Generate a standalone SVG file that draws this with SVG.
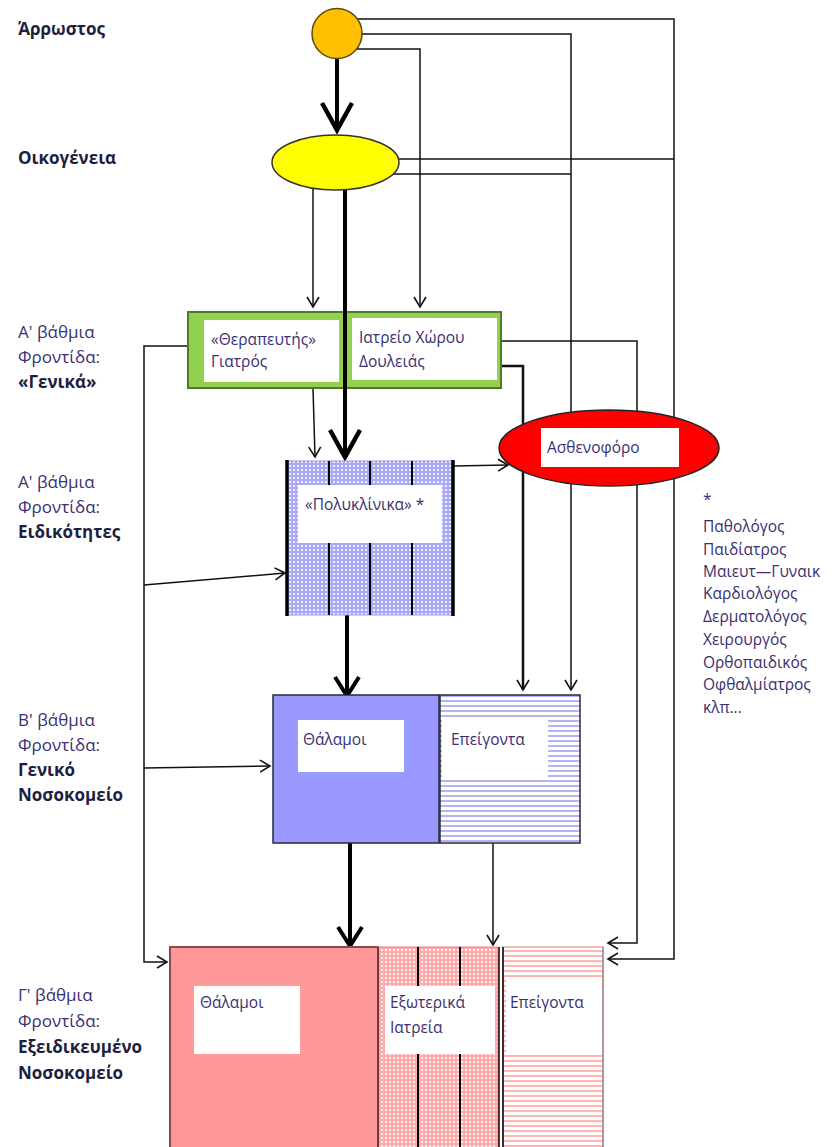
<svg xmlns="http://www.w3.org/2000/svg" width="836" height="1147" viewBox="0 0 836 1147">
<style>
.lbl{font-family:"Open Sans","Noto Sans",sans-serif;font-size:17px;fill:#3a2f70}
.b{font-weight:bold;fill:#1e1e40}
.in{font-family:"Open Sans","Noto Sans",sans-serif;font-size:15.5px;fill:#3a2f70}
.ln{fill:none;stroke:#111;stroke-width:1.5}
.th{fill:none;stroke:#000;stroke-width:4}
.md{fill:none;stroke:#111;stroke-width:2.5}
</style>
<defs>
<marker id="a" markerUnits="userSpaceOnUse" viewBox="0 0 10 12" refX="10" refY="6" markerWidth="10" markerHeight="12" orient="auto" overflow="visible"><path d="M0,0 L10,6 L0,12" fill="none" stroke="#111" stroke-width="1.6"/></marker>
<marker id="ab" markerUnits="userSpaceOnUse" viewBox="0 0 28 30" refX="27" refY="15" markerWidth="28" markerHeight="30" orient="auto" overflow="visible"><path d="M0,0 L27,15 L0,30" fill="none" stroke="#000" stroke-width="4.5"/></marker>
<marker id="am" markerUnits="userSpaceOnUse" viewBox="0 0 20 24" refX="19" refY="12" markerWidth="20" markerHeight="24" orient="auto" overflow="visible"><path d="M0,0 L19,12 L0,24" fill="none" stroke="#000" stroke-width="4"/></marker>
<pattern id="dotB" width="4" height="4" patternUnits="userSpaceOnUse"><rect width="4" height="4" fill="#a9a9f5"/><circle cx="2" cy="2" r="1.1" fill="#fff"/></pattern>
<pattern id="hlB" width="6" height="5" patternUnits="userSpaceOnUse"><rect width="6" height="5" fill="#fff"/><rect width="6" height="2" fill="#b3b3f7"/></pattern>
<pattern id="dotR" width="4" height="4" patternUnits="userSpaceOnUse"><rect width="4" height="4" fill="#ffaaaa"/><circle cx="2" cy="2" r="1.1" fill="#fff"/></pattern>
<pattern id="hlR" width="6" height="5" patternUnits="userSpaceOnUse"><rect width="6" height="5" fill="#fff"/><rect width="6" height="2" fill="#ffb3b3"/></pattern>
</defs>
<g id="labels">
<text class="lbl b" x="18" y="35">Άρρωστος</text>
<text class="lbl b" x="18" y="164">Οικογένεια</text>
<text class="lbl" x="18" y="338">Α' βάθμια</text>
<text class="lbl" x="18" y="363">Φροντίδα:</text>
<text class="lbl b" x="18" y="388">«Γενικά»</text>
<text class="lbl" x="18" y="488">Α' βάθμια</text>
<text class="lbl" x="18" y="513">Φροντίδα:</text>
<text class="lbl b" x="18" y="538">Ειδικότητες</text>
<text class="lbl" x="18" y="726">Β' βάθμια</text>
<text class="lbl" x="18" y="751">Φροντίδα:</text>
<text class="lbl b" x="18" y="776">Γενικό</text>
<text class="lbl b" x="18" y="801">Νοσοκομείο</text>
<text class="lbl" x="18" y="1001">Γ' βάθμια</text>
<text class="lbl" x="18" y="1027">Φροντίδα:</text>
<text class="lbl b" x="18" y="1053">Εξειδικευμένο</text>
<text class="lbl b" x="18" y="1079">Νοσοκομείο</text>
</g>
<g id="connectors">
<path class="ln" d="M337,19 H674 V959 H608" marker-end="url(#a)"/>
<path class="ln" d="M337,34 H571 V690" marker-end="url(#a)"/>
<path class="ln" d="M337,49 H420 V307" marker-end="url(#a)"/>
<path class="ln" d="M336,159 H674"/>
<path class="ln" d="M336,174 H571"/>
<path class="th" d="M337,58 V130" marker-end="url(#ab)"/>
<path class="ln" d="M313,185 V307" marker-end="url(#a)"/>
<path class="th" d="M345,185 V457" marker-end="url(#ab)"/>
<path class="ln" d="M313,388 L315,457" marker-end="url(#a)"/>
<path class="ln" d="M187,346 H144 V962 H167" marker-end="url(#a)"/>
<path class="ln" d="M144,585 L285,573" marker-end="url(#a)"/>
<path class="ln" d="M144,768 L270,766" marker-end="url(#a)"/>
<path class="ln" d="M497,341 H637 V943 H608" marker-end="url(#a)"/>
<path class="md" d="M497,366 H523 V690" marker-end="url(#a)"/>
<path class="ln" d="M453,466 L508,465" marker-end="url(#a)"/>
<path class="th" d="M347,615 V696" marker-end="url(#am)"/>
<path class="th" d="M350,843 V946" marker-end="url(#am)"/>
<path class="ln" d="M493,843 V945" marker-end="url(#a)"/>
</g>
<g id="patient">
<circle cx="337" cy="33.5" r="25" fill="#ffc000" stroke="#5a4a10" stroke-width="1.5"/>
</g>
<g id="family">
<ellipse cx="335.5" cy="162.5" rx="63.5" ry="27.5" fill="#ffff00" stroke="#333" stroke-width="1.5"/>
</g>
<g id="primary-general">
<rect x="188" y="312" width="313" height="76" fill="#92d050" stroke="#4f7a28" stroke-width="2"/>
<rect x="204" y="320" width="135" height="62" fill="#fff"/>
<rect x="352" y="318" width="145" height="62" fill="#fff"/>
<line x1="345" y1="310" x2="345" y2="390" stroke="#000" stroke-width="4"/>
<text class="in" x="211" y="345">«Θεραπευτής»</text>
<text class="in" x="211" y="367">Γιατρός</text>
<text class="in" x="359" y="343">Ιατρείο Χώρου</text>
<text class="in" x="359" y="367">Δουλειάς</text>
</g>
<g id="ambulance">
<ellipse cx="609" cy="448" rx="110" ry="38" fill="#ff0000" stroke="#222" stroke-width="1.5"/>
<rect x="541" y="428" width="138" height="39" fill="#fff"/>
<text class="in" x="547" y="453">Ασθενοφόρο</text>
</g>
<g id="polyclinics">
<rect x="287" y="461" width="166" height="154" fill="url(#dotB)" stroke="#9a9ae0" stroke-width="1"/>
<g stroke="#000"><line x1="287" y1="460" x2="287" y2="616" stroke-width="3.5"/><line x1="453" y1="460" x2="453" y2="616" stroke-width="3.5"/><line x1="329" y1="461" x2="329" y2="615" stroke-width="2"/><line x1="370" y1="461" x2="370" y2="615" stroke-width="2"/><line x1="412" y1="461" x2="412" y2="615" stroke-width="2"/></g>
<rect x="298" y="485" width="144" height="58" fill="#fff"/>
<text class="in" x="305" y="510">«Πολυκλίνικα» *</text>
</g>
<g id="general-hospital">
<rect x="273" y="695" width="166" height="148" fill="#9999ff" stroke="#2a2a3a" stroke-width="1.5"/>
<rect x="440" y="695" width="140" height="148" fill="url(#hlB)" stroke="#2a2a3a" stroke-width="1.5"/>
<rect x="298" y="720" width="106" height="52" fill="#fff"/>
<rect x="442" y="718" width="106" height="59" fill="#fff"/>
<text class="in" x="303" y="745">Θάλαμοι</text>
<text class="in" x="451" y="745">Επείγοντα</text>
</g>
<g id="specialized-hospital">
<rect x="170" y="947" width="208" height="205" fill="#ff9999" stroke="#8a4a4a" stroke-width="2"/>
<rect x="378" y="947" width="120" height="205" fill="url(#dotR)" stroke="#e08080" stroke-width="1"/>
<rect x="503" y="947" width="100" height="205" fill="url(#hlR)" stroke="#e08080" stroke-width="1"/>
<g stroke="#000"><line x1="378" y1="947" x2="378" y2="1147" stroke-width="2" stroke="#6a3a3a"/><line x1="418" y1="947" x2="418" y2="1147" stroke-width="2"/><line x1="460" y1="947" x2="460" y2="1147" stroke-width="2"/><line x1="499" y1="947" x2="499" y2="1147" stroke-width="1.5"/><line x1="503" y1="947" x2="503" y2="1147" stroke-width="1.5"/><line x1="603" y1="947" x2="603" y2="1147" stroke-width="1" stroke="#777"/></g>
<rect x="194" y="986" width="106" height="68" fill="#fff"/>
<rect x="385" y="986" width="110" height="68" fill="#fff"/>
<rect x="506" y="980" width="96" height="73" fill="#fff"/>
<text class="in" x="200" y="1008">Θάλαμοι</text>
<text class="in" x="390" y="1008">Εξωτερικά</text>
<text class="in" x="390" y="1033">Ιατρεία</text>
<text class="in" x="510" y="1008">Επείγοντα</text>
</g>
<g id="specialties">
<text class="in" x="703" y="505">*</text>
<text class="in" x="703" y="532">Παθολόγος</text>
<text class="in" x="703" y="555">Παιδίατρος</text>
<text class="in" x="703" y="577">Μαιευτ—Γυναικ</text>
<text class="in" x="703" y="599">Καρδιολόγος</text>
<text class="in" x="703" y="622">Δερματολόγος</text>
<text class="in" x="703" y="645">Χειρουργός</text>
<text class="in" x="703" y="668">Ορθοπαιδικός</text>
<text class="in" x="703" y="690">Οφθαλμίατρος</text>
<text class="in" x="703" y="713">κλπ...</text>
</g>
</svg>
